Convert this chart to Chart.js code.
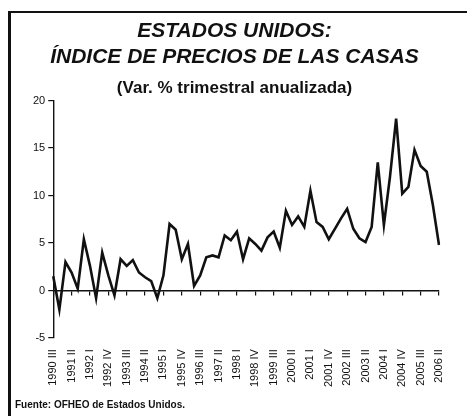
<!DOCTYPE html>
<html>
<head>
<meta charset="utf-8">
<script src="https://cdn.jsdelivr.net/npm/chart.js@4"></script>
<style>
    html, body { margin: 0; padding: 0; background: #fff; }
    .wrap { position: relative; width: 467px; height: 416px; overflow: hidden; background: #fff; }
    .frame { position: absolute; left: 8px; top: 11px; width: 470px; height: 420px; border-left: 3px solid #111; border-top: 2px solid #111; }
    #chart-holder { position: absolute; left: 0; top: 0; width: 467px; height: 400px; }
    .source { position: absolute; left: 15px; top: 399px; font: bold 10px "Liberation Sans", Arial, sans-serif; color: #111; }
</style>
</head>
<body>
<div class="wrap">
    <div class="frame"></div>
    <div id="chart-holder"><canvas id="housePriceChart"></canvas></div>
    <div class="source">Fuente: OFHEO de Estados Unidos.</div>
</div>
<script>
const quarters = [
    '1990 III', '1990 IV', '1991 I', '1991 II', '1991 III', '1991 IV',
    '1992 I', '1992 II', '1992 III', '1992 IV', '1993 I', '1993 II', '1993 III', '1993 IV',
    '1994 I', '1994 II', '1994 III', '1994 IV', '1995 I', '1995 II', '1995 III', '1995 IV',
    '1996 I', '1996 II', '1996 III', '1996 IV', '1997 I', '1997 II', '1997 III', '1997 IV',
    '1998 I', '1998 II', '1998 III', '1998 IV', '1999 I', '1999 II', '1999 III', '1999 IV',
    '2000 I', '2000 II', '2000 III', '2000 IV', '2001 I', '2001 II', '2001 III', '2001 IV',
    '2002 I', '2002 II', '2002 III', '2002 IV', '2003 I', '2003 II', '2003 III', '2003 IV',
    '2004 I', '2004 II', '2004 III', '2004 IV', '2005 I', '2005 II', '2005 III', '2005 IV',
    '2006 I', '2006 II',
];

const shownLabels = [
    '1990 III', '1991 II', '1992 I', '1992 IV', '1993 III', '1994 II', '1995 I', '1995 IV',
    '1996 III', '1997 II', '1998 I', '1998 IV', '1999 III', '2000 II', '2001 I', '2001 IV',
    '2002 III', '2003 II', '2004 I', '2004 IV', '2005 III', '2006 II',
];

const priceChange = [
    1.5, -2.0, 3.0, 1.9, 0.2, 5.4, 2.6, -0.8, 4.0, 1.6, -0.5, 3.3, 2.6, 3.2, 1.9, 1.4,
    1.0, -0.8, 1.6, 7.0, 6.4, 3.3, 4.9, 0.5, 1.6, 3.5, 3.7, 3.5, 5.8, 5.3, 6.2, 3.3,
    5.5, 4.9, 4.2, 5.6, 6.2, 4.5, 8.4, 6.9, 7.8, 6.7, 10.5, 7.2, 6.7, 5.4, 6.5, 7.6,
    8.6, 6.5, 5.5, 5.1, 6.7, 13.5, 6.9, 12.0, 18.1, 10.2, 10.9, 14.8, 13.1, 12.5, 9.0, 4.8,
];

const yTicks = [-5, 0, 5, 10, 15, 20];

const fontFamily = '"Liberation Sans", Arial, sans-serif';
const ink = '#111';

Chart.defaults.font.family = fontFamily;
Chart.defaults.color = ink;

const isShown = (index) => shownLabels.includes(quarters[index]);

new Chart(document.getElementById('housePriceChart'), {
    type: 'line',
    data: {
        labels: quarters,
        datasets: [{
            label: 'Var. %',
            data: priceChange,
            borderColor: ink,
            borderWidth: 2.6,
            pointRadius: 0,
            tension: 0,
            xAxisID: 'x',
            yAxisID: 'y',
        }],
    },
    options: {
        responsive: true,
        maintainAspectRatio: false,
        animation: false,
        layout: {
            padding: { left: 30, right: 28, top: 0, bottom: 10 },
        },
        plugins: {
            legend: { display: false },
            tooltip: { enabled: false },
            title: {
                display: true,
                text: ['ESTADOS UNIDOS:', 'ÍNDICE DE PRECIOS DE LAS CASAS'],
                color: ink,
                font: { size: 21, weight: 'bold', style: 'italic', lineHeight: 1.24 },
                padding: { top: 18, bottom: 2 },
            },
            subtitle: {
                display: true,
                text: '(Var. % trimestral anualizada)',
                color: ink,
                font: { size: 17, weight: 'bold', lineHeight: 1.2 },
                padding: { top: 6, bottom: 2 },
            },
        },
        scales: {
            x: {
                type: 'category',
                position: 'bottom',
                offset: false,
                grid: { display: false },
                border: { display: false },
                ticks: {
                    autoSkip: false,
                    maxRotation: 90,
                    minRotation: 90,
                    padding: 3,
                    font: { size: 11 },
                    callback: (value, index) => (isShown(index) ? quarters[index] : ''),
                },
            },
            xZero: {
                type: 'category',
                position: { y: 0 },
                offset: false,
                grid: {
                    display: true,
                    drawOnChartArea: false,
                    drawTicks: true,
                    tickLength: 4,
                    lineWidth: 1.2,
                    color: (ctx) => (isShown(ctx.index) ? ink : 'rgba(0,0,0,0)'),
                },
                border: { display: true, color: ink, width: 1.4 },
                ticks: { display: false, autoSkip: false },
            },
            y: {
                min: -5,
                max: 20,
                afterBuildTicks: (scale) => {
                    scale.ticks = yTicks.map((v) => ({ value: v }));
                },
                grid: {
                    display: true,
                    drawOnChartArea: false,
                    drawTicks: true,
                    tickLength: 5,
                    color: ink,
                    lineWidth: 1.2,
                },
                border: { display: true, color: ink, width: 1.4 },
                ticks: {
                    padding: 3,
                    font: { size: 11 },
                },
            },
        },
    },
});
</script>
</body>
</html>
